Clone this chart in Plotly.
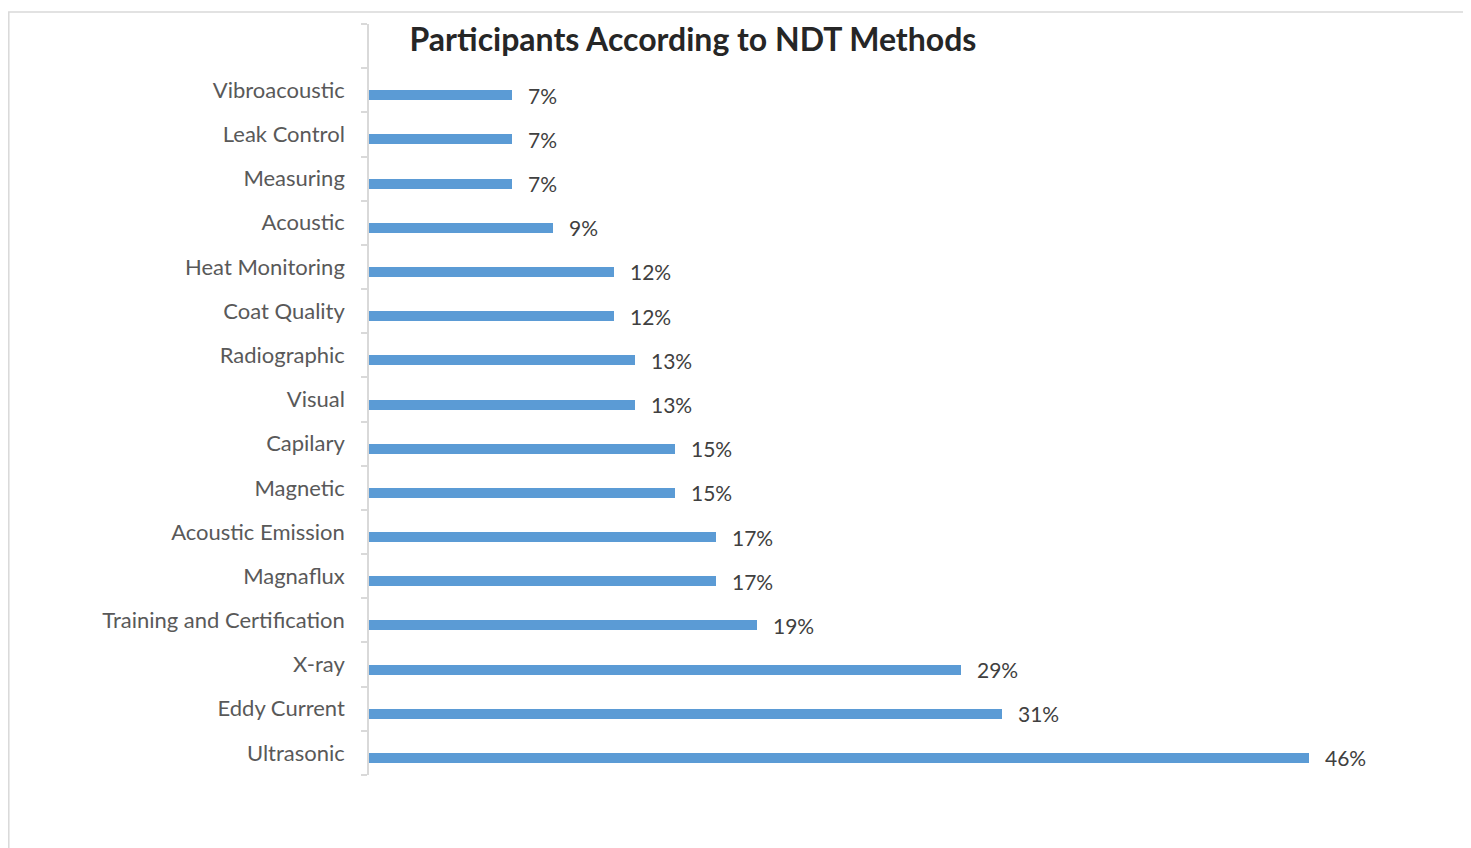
import plotly.graph_objects as go

categories = ["Ultrasonic", "Eddy Current", "X-ray", "Training and Certification",
              "Magnaflux", "Acoustic Emission", "Magnetic", "Capilary", "Visual",
              "Radiographic", "Coat Quality", "Heat Monitoring", "Acoustic",
              "Measuring", "Leak Control", "Vibroacoustic"]
values = [46, 31, 29, 19, 17, 17, 15, 15, 13, 13, 12, 12, 9, 7, 7, 7]
labels = [f"{v}%" for v in values]
title_text = "Participants According to NDT Methods"

OFF = 8  # page body margin
W, H = 1471 - OFF, 848 - OFF
L, R, T, B = 369 - OFF, 12, 24 - OFF, 848 - 775
pw = W - L - R
ph = H - T - B
xmax = pw / 20.43

BAR_W = 10 / 44.18

fig = go.Figure()
fig.add_trace(go.Bar(
    y=categories, x=values, orientation="h",
    marker=dict(color="#5B9BD5", line=dict(width=0)),
    width=BAR_W, offset=-BAR_W,
    hoverinfo="skip",
))

for c, v, t in zip(categories, values, labels):
    fig.add_annotation(x=v, y=c, text=t, showarrow=False, xanchor="left",
                       xshift=14, yshift=-5,
                       font=dict(family="Lato", size=21, color="#404040"))

# chart frame (left and top border visible)
fig.add_shape(type="rect", xref="paper", yref="paper",
              x0=(0.8 - L) / pw, x1=(W + 10 - L) / pw,
              y0=-(H + 10 - T - ph) / ph, y1=1 + (T - (12 - OFF)) / ph,
              line=dict(color="#d9d9d9", width=1.5), fillcolor="rgba(0,0,0,0)",
              layer="below")

fig.update_layout(
    width=W, height=H,
    margin=dict(l=L, r=R, t=T, b=B, pad=0),
    paper_bgcolor="white", plot_bgcolor="white",
    showlegend=False,
    title=dict(text=f"<b>{title_text}</b>", x=(693 - OFF - L) / pw, xref="paper",
               xanchor="center", y=1 - (40 - OFF) / H, yanchor="middle",
               font=dict(family="Lato", size=32, color="#262626")),
    xaxis=dict(range=[0, xmax], visible=False, fixedrange=True),
    yaxis=dict(type="category", categoryorder="array",
               categoryarray=categories + [" "],
               range=[-0.5, len(categories) + 0.5],
               tickson="boundaries", ticks="outside", ticklen=6,
               tickcolor="#d9d9d9", tickwidth=1.5,
               showline=True, linecolor="#d9d9d9", linewidth=1.5,
               showgrid=False, zeroline=False,
               ticklabelstandoff=18,
               tickfont=dict(family="Lato", size=22, color="#595959")),
    bargap=0,
)

fig.write_html("out.html")
